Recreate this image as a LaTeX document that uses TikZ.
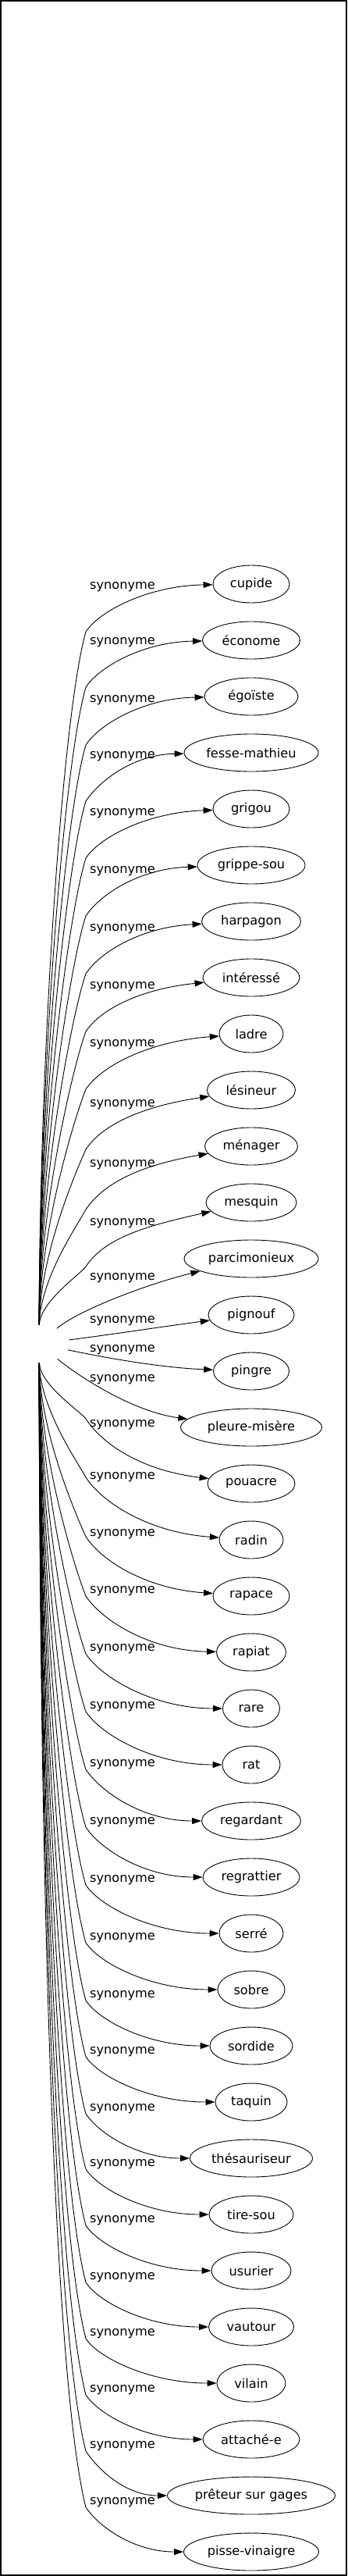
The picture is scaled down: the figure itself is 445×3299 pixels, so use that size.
\documentclass[tikz,border=0pt]{standalone}
\usepackage{fontspec}
\setmainfont{DejaVu Sans}
\usetikzlibrary{arrows.meta,shapes.geometric}
\begin{document}
\begin{tikzpicture}[x=1pt,y=1pt,
  syn/.style={ellipse,draw,line width=0.9pt,inner sep=0pt,minimum height=48pt,font=\fontsize{16.2}{19}\selectfont},
  lbl/.style={inner sep=0pt,anchor=mid,font=\fontsize{16.2}{19}\selectfont},
  edge/.style={line width=0.9pt,-{Triangle[length=12pt,width=8pt]}}]
\useasboundingbox (0,0) rectangle (445,-3299);
\draw[line width=2pt] (1,-1) rectangle (444,-3298);
\node[ellipse,minimum width=78pt,minimum height=48pt,inner sep=0pt] (root) at (50,-1721) {};
\foreach \i/\w/\t in {0/98/cupide,1/125/économe,2/120/égoïste,3/172/fesse-mathieu,4/98/grigou,5/138/grippe-sou,6/127/harpagon,7/124/intéressé,8/82/ladre,9/113/lésineur,10/119/ménager,11/116/mesquin,12/172/parcimonieux,13/110/pignouf,14/97/pingre,15/181/pleure-misère,16/112/pouacre,17/82/radin,18/98/rapace,19/89/rapiat,20/73/rare,21/74/rat,22/127/regardant,23/124/regrattier,24/82/serré,25/86/sobre,26/106/sordide,27/92/taquin,28/157/thésauriseur,29/108/tire-sou,30/102/usurier,31/109/vautour,32/88/vilain,33/124/attaché-e,34/215/prêteur sur gages,35/173/pisse-vinaigre}
  \node[syn,minimum width=\w pt] (n\i) at (322,{-748-72*\i}) {\t};
\foreach \i/\yl in {0/752,1/823,2/897,3/969,4/1042,5/1116,6/1190,7/1264,8/1338,9/1415,10/1492,11/1567,12/1637,13/1692,14/1729,15/1767,16/1825,17/1892,18/1965,19/2038,20/2112,21/2186,22/2260,23/2334,24/2408,25/2482,26/2556,27/2628,28/2701,29/2772,30/2844,31/2917,32/2989,33/3061,34/3133,35/3205}
  \node[lbl] (l\i) at (157,-\yl) {synonyme};
\foreach \i/\w/\yl/\kc/\sg/\qo in {0/98/752/57/-1/2,1/125/823/57/-1/2,2/120/897/57/-1/2,3/172/969/57/-1/2,4/98/1042/57/-1/4,5/138/1116/57/-1/4,6/127/1190/57/-1/7,7/124/1264/57/-1/14,8/82/1338/57/-1/9,9/113/1415/57/-1/20,10/119/1492/57/-1/23,11/116/1567/55/-1/30,16/112/1825/-8/1/-16,17/82/1892/0/1/-9,18/98/1965/3/1/-9,19/89/2038/6/1/-2,20/73/2112/6/1/0,21/74/2186/6/1/0,22/127/2260/6/1/0,23/124/2334/6/1/0,24/82/2408/6/1/0,25/86/2482/6/1/0,26/106/2556/6/1/0,27/92/2628/6/1/0,28/157/2701/6/1/0,29/108/2772/6/1/0,30/102/2844/6/1/0,31/109/2917/6/1/0,32/88/2989/6/1/0,33/124/3061/6/1/0,34/215/3133/6/1/0,35/173/3205/6/1/0}{
  \pgfmathsetmacro\yR{1721+24*(\sg)}
  \pgfmathsetmacro\yK{\yl+(\kc)}
  \pgfmathsetmacro\D{abs(\yK-\yR)}
  \pgfmathsetmacro\s{0.2+80/(\D+100)}
  \pgfmathsetmacro\L{0.12*\D}
  \pgfmathsetmacro\pay{\yR+(\sg)*0.4*\D}
  \pgfmathsetmacro\pbx{110-\L*\s}
  \pgfmathsetmacro\pby{\yK-(\sg)*\L}
  \pgfmathsetmacro\yT{748+72*\i}
  \pgfmathsetmacro\E{abs(\yT-\yK)}
  \pgfmathsetmacro\qax{110+0.3*\E}
  \pgfmathsetmacro\qay{\yK+(\sg)*0.45*\E}
  \pgfmathsetmacro\xW{322-\w/2}
  \pgfmathsetmacro\qbx{\xW-0.5*(\xW-110)}
  \pgfmathsetmacro\qby{\yT+(\qo)}
  \draw[edge] (root) .. controls (51,-\pay) and (\pbx,-\pby) .. (110,-\yK) .. controls (\qax,-\qay) and (\qbx,-\qby) .. (n\i);
}
\draw[edge] (root) .. controls (100,-1678) and (190,-1644) .. (n12);
\draw[edge] (root) .. controls (150,-1708) and (215,-1698) .. (n13);
\draw[edge] (root) .. controls (150,-1742) and (215,-1752) .. (n14);
\draw[edge] (root) .. controls (100,-1762) and (170,-1808) .. (n15);
\end{tikzpicture}
\end{document}
